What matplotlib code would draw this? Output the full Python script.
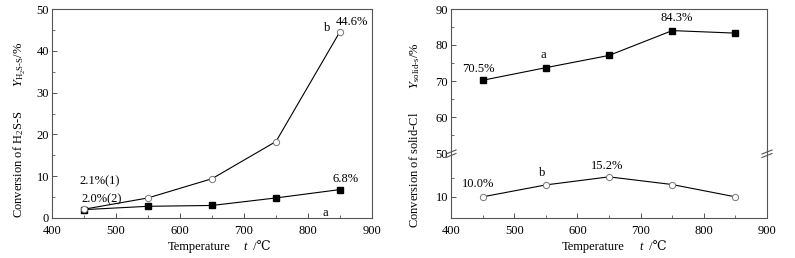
import matplotlib
matplotlib.use("Agg")
import matplotlib.pyplot as plt
from matplotlib.ticker import MultipleLocator

plt.rcParams['font.family'] = ['Liberation Serif', 'DejaVu Serif']
plt.rcParams['mathtext.fontset'] = 'custom'
plt.rcParams['mathtext.rm'] = 'Liberation Serif'
plt.rcParams['mathtext.it'] = 'Liberation Serif:italic'
plt.rcParams['font.size'] = 9

# data
temps = [450, 550, 650, 750, 850]
h2s_a = [2.0, 2.8, 3.0, 4.8, 6.8]
h2s_b = [2.1, 4.8, 9.4, 18.3, 44.6]
cl_a = [70.2, 73.7, 77.1, 84.0, 83.3]
cl_b = [10.0, 13.1, 15.2, 13.2, 10.0]

SPINE = '#555555'
W, H = 795, 258
fig = plt.figure(figsize=(W / 100, H / 100), dpi=100)


def px(x, y):
    # figure pixel (from top-left) -> figure fraction
    return x / W, 1 - y / H


def style(ax):
    for s in ax.spines.values():
        s.set_color(SPINE)
        s.set_linewidth(0.8)
    ax.tick_params(direction='in', which='major', length=3.5, width=0.7, color=SPINE, pad=2)
    ax.tick_params(direction='in', which='minor', length=2, width=0.6, color=SPINE)
    ax.tick_params(axis='x', which='major', pad=5)


def draw_a(ax, y):
    ax.plot(temps, y, '-s', color='black', lw=0.8, ms=4.5, mfc='black', mec='black')


def draw_b(ax, y):
    ax.plot(temps, y, '-o', color='black', lw=0.8, ms=4.5, mfc='white', mec='#777777', mew=0.7)


def xlabel(x_end, x_t):
    fig.text(*px(x_end, 247), 'Temperature', ha='right', va='center')
    fig.text(*px(x_t, 247), '$t$', ha='center', va='center')
    fig.text(*px(x_t + 4, 247), ' /℃', ha='left', va='center')


# ---------------- left panel ----------------
ax1 = fig.add_axes([52 / W, 40 / H, 320 / W, 209 / H])
draw_a(ax1, h2s_a)
draw_b(ax1, h2s_b)
ax1.set_xlim(400, 900)
ax1.set_ylim(0, 50)
ax1.xaxis.set_major_locator(MultipleLocator(100))
ax1.xaxis.set_minor_locator(MultipleLocator(50))
ax1.yaxis.set_major_locator(MultipleLocator(10))
ax1.yaxis.set_minor_locator(MultipleLocator(5))
style(ax1)
xlabel(230, 246)
fig.text(*px(20, 130), r'Conversion of H$_2$S-S        $Y_{\rm H_2S\text{-}S}$/%',
         rotation=90, ha='center', va='center')

ax1.text(830, 45.5, 'b', ha='center', va='center')
ax1.text(868, 47.0, '44.6%', ha='center', va='center')
ax1.text(475, 8.9, '2.1%(1)', ha='center', va='center')
ax1.text(477, 4.5, '2.0%(2)', ha='center', va='center')
ax1.text(858, 9.3, '6.8%', ha='center', va='center')
ax1.text(827, 1.2, 'a', ha='center', va='center')

# ---------------- right panel (broken axis) ----------------
x0 = 451 / W
w = 316 / W
ax_top = fig.add_axes([x0, 105 / H, w, 144 / H])
ax_bot = fig.add_axes([x0, 40 / H, w, 65 / H])

draw_a(ax_top, cl_a)
draw_b(ax_bot, cl_b)

for ax in (ax_top, ax_bot):
    ax.set_xlim(400, 900)
    ax.xaxis.set_major_locator(MultipleLocator(100))
    ax.xaxis.set_minor_locator(MultipleLocator(50))
    style(ax)

ax_top.set_ylim(50, 90)
ax_top.yaxis.set_major_locator(MultipleLocator(10))
ax_top.yaxis.set_minor_locator(MultipleLocator(5))
ax_top.spines['bottom'].set_visible(False)
ax_top.tick_params(axis='x', which='both', bottom=False, labelbottom=False)

ax_bot.set_ylim(4.5, 21.4)
ax_bot.set_yticks([10])
ax_bot.set_yticks([15], minor=True)
ax_bot.spines['top'].set_visible(False)

xlabel(625, 642)
fig.text(*px(415, 135), r'Conversion of solid-Cl        $Y_{\rm solid\text{-}s}$/%',
         rotation=90, ha='center', va='center')

# break marks
for xf in (x0, x0 + w):
    for dy in (-2.5, 1.0):
        yc = (105 + dy) / H
        fig.add_artist(plt.Line2D([xf - 5 / W, xf + 5 / W], [yc - 2 / H, yc + 2 / H],
                                  color=SPINE, lw=0.8))

ax_top.text(443, 73.3, '70.5%', ha='center', va='center')
ax_top.text(546, 77.2, 'a', ha='center', va='center')
ax_top.text(757, 87.5, '84.3%', ha='center', va='center')
ax_bot.text(443, 13.4, '10.0%', ha='center', va='center')
ax_bot.text(545, 16.3, 'b', ha='center', va='center')
ax_bot.text(647, 18.1, '15.2%', ha='center', va='center')

fig.savefig('out.png', dpi=100)
